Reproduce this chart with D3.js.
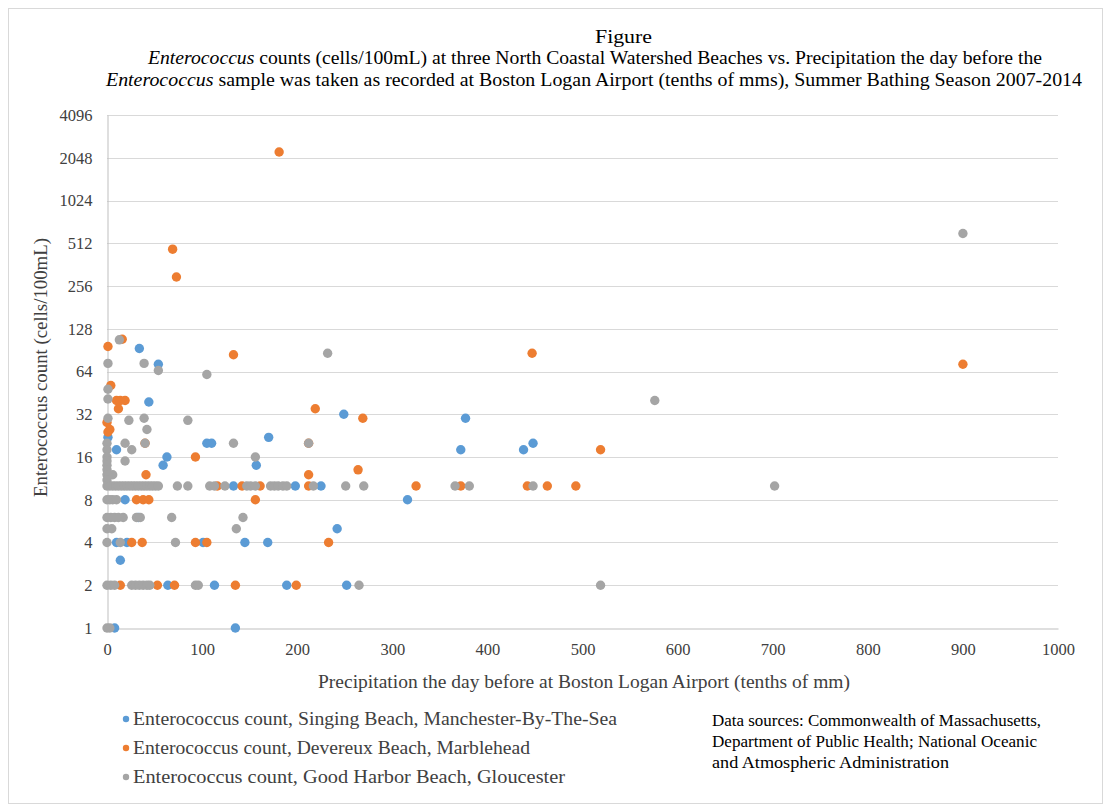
<!DOCTYPE html>
<html>
<head>
<meta charset="utf-8">
<script src="https://cdn.jsdelivr.net/npm/d3@7"></script>
<style>
  html, body { margin: 0; padding: 0; background: #fff; }
  svg { display: block; font-family: "Liberation Serif", "Times New Roman", serif; }
  svg text { font-family: "Liberation Serif", "Times New Roman", serif; }
</style>
</head>
<body>
<svg id="chart" width="1110" height="809"></svg>
<script>
// ---------- DATA ----------
const seriesNames = [
  "Enterococcus count, Singing Beach, Manchester-By-The-Sea",
  "Enterococcus count, Devereux Beach, Marblehead",
  "Enterococcus count, Good Harbor Beach, Gloucester"
];
const seriesColors = ["#5B9BD5", "#ED7D31", "#A5A5A5"];

// [precipitation (tenths of mm), Enterococcus count]
const singingBeach = [
  [1,22],[10,18],[34,93],[54,72],[44,39],[63,16],[59,14],[105,20],[110,20],
  [170,22],[157,14],[19,8],[10,4],[21,4],[101,4],[145,4],[169,4],[14,3],
  [64,2],[113,2],[189,2],[252,2],[8,1],[135,1],[133,10],[198,10],[225,10],
  [316,8],[242,5],[249,32],[377,30],[372,18],[438,18],[448,20],[33,6]
];
const devereuxBeach = [
  [1,96],[16,108],[4,51],[10,40],[14,40],[19,40],[12,35],[0,28],[3,25],[1,24],
  [40,20],[133,84],[181,2250],[69,465],[73,296],[93,16],[41,12],
  [116,10],[142,10],[161,10],[31,8],[38,8],[44,8],[156,8],[26,4],[37,4],
  [93,4],[105,4],[14,2],[53,2],[71,2],[135,2],[199,2],[212,20],[219,35],
  [269,30],[212,12],[264,13],[212,10],[233,4],[325,10],[372,10],[442,10],
  [463,10],[493,10],[447,86],[519,18],[900,72]
];
const goodHarborBeach = [
  [1,73],[1,48],[1,41],[1,30],[0,20],[0,18],[0,16],[0,15],[0,14],[0,13],
  [0,12],[0,11],[0,8],[0,6],[0,5],[0,4],[0,2],[0,1],[3,1],
  [13,107],[39,73],[54,65],[105,61],[232,86],[23,29],[39,30],[85,29],[42,25],
  [19,20],[26,18],[40,20],[133,20],[19,15],[6,12],[156,16],[212,20],
  [0,10],[3,10],[6,10],[9,10],[12,10],[15,10],[18,10],[21,10],[24,10],[27,10],
  [30,10],[33,10],[36,10],[39,10],[42,10],[45,10],[48,10],[51,10],[54,10],
  [74,10],[85,10],[108,10],[113,10],[124,10],[147,10],[151,10],[156,10],
  [172,10],[176,10],[180,10],[185,10],[189,10],[217,10],[251,10],[270,10],
  [366,10],[381,10],[448,10],[702,10],
  [3,8],[6,8],[10,8],
  [4,6],[8,6],[12,6],[17,6],[31,6],[35,6],[68,6],[143,6],
  [5,5],[136,5],
  [14,4],[72,4],
  [4,2],[8,2],[26,2],[30,2],[34,2],[38,2],[42,2],[45,2],[93,2],[96,2],[265,2],[519,2],
  [576,40],[900,600]
];
const allSeries = [singingBeach, devereuxBeach, goodHarborBeach];

const xTicks = [0,100,200,300,400,500,600,700,800,900,1000];
const yTicks = [1,2,4,8,16,32,64,128,256,512,1024,2048,4096];

const titleTop = "Figure";
const titleLine1 = [["Enterococcus", true], [" counts (cells/100mL)  at three North Coastal Watershed Beaches vs. Precipitation  the day before the", false]];
const titleLine2 = [["Enterococcus", true], [" sample was taken as recorded at Boston Logan Airport (tenths of mms), Summer Bathing Season 2007-2014", false]];
const xTitle = "Precipitation the day before at Boston Logan Airport (tenths of mm)";
const yTitle = "Enterococcus count (cells/100mL)";
const sourceLines = [
  "Data sources: Commonwealth of Massachusetts,",
  "Department of Public Health; National Oceanic",
  "and Atmospheric Administration"
];

// ---------- DRAW ----------
const svg = d3.select("#chart");
const L = 107, R = 1058, T = 115, B = 628;
const SERIF = "Liberation Serif, Times New Roman, serif";

svg.append("rect").attr("x", 8.5).attr("y", 8.5).attr("width", 1094).attr("height", 795)
  .attr("fill", "#fff").attr("stroke", "#d9d9d9").attr("stroke-width", 1);

const x = d3.scaleLinear().domain([0, 1000]).range([L, R]);
const y = d3.scaleLog().base(2).domain([1, 4096]).range([B, T]);

// gridlines
svg.append("g").selectAll("line").data(yTicks.slice(1)).join("line")
  .attr("x1", L).attr("x2", R)
  .attr("y1", d => Math.round(y(d)) + 0.5).attr("y2", d => Math.round(y(d)) + 0.5)
  .attr("stroke", "#d9d9d9").attr("stroke-width", 1);

// axes
const xAxis = d3.axisBottom(x).tickValues(xTicks).tickSize(0).tickPadding(15).tickFormat(d3.format("d"));
const gx = svg.append("g").attr("transform", `translate(0,${B + 0.5})`).call(xAxis)
  .attr("font-family", SERIF);
gx.select(".domain").attr("stroke", "#bfbfbf");
gx.selectAll("text").attr("font-size", 16.5).attr("fill", "#404040");

const yAxis = d3.axisLeft(y).tickValues(yTicks).tickSize(0).tickPadding(15).tickFormat(d3.format("d"));
const gy = svg.append("g").attr("transform", `translate(${L + 0.5},0)`).call(yAxis)
  .attr("font-family", SERIF);
gy.select(".domain").attr("stroke", "#bfbfbf");
gy.selectAll("text").attr("font-size", 16.5).attr("fill", "#404040");

// points
allSeries.forEach((s, i) => {
  svg.append("g").selectAll("circle").data(s).join("circle")
    .attr("cx", d => x(d[0])).attr("cy", d => y(d[1]))
    .attr("r", 4.7).attr("fill", seriesColors[i]);
});

function fit(sel, w) {
  sel.attr("textLength", w).attr("lengthAdjust", "spacingAndGlyphs");
}

// titles
fit(svg.append("text").attr("x", 623.5).attr("y", 43).attr("text-anchor", "middle")
  .attr("font-size", 19).attr("fill", "#000").text(titleTop), 57);
function richLine(parts, cx, yy, w) {
  const t = svg.append("text").attr("x", cx).attr("y", yy).attr("text-anchor", "middle")
    .attr("font-size", 19).attr("fill", "#000");
  parts.forEach(p => t.append("tspan").attr("font-style", p[1] ? "italic" : "normal").text(p[0]));
  fit(t, w);
}
richLine(titleLine1, 595, 64, 894);
richLine(titleLine2, 594, 86, 976);

fit(svg.append("text").attr("x", 584).attr("y", 688).attr("text-anchor", "middle")
  .attr("font-size", 19).attr("fill", "#404040").text(xTitle), 532);
fit(svg.append("text").attr("transform", "translate(47,367.5) rotate(-90)").attr("text-anchor", "middle")
  .attr("font-size", 19).attr("fill", "#404040").text(yTitle), 259);

// legend
const legendW = [484, 397, 432];
const lg = svg.append("g");
seriesNames.forEach((n, i) => {
  const yy = 719 + i * 29;
  lg.append("circle").attr("cx", 126).attr("cy", yy).attr("r", 3.2).attr("fill", seriesColors[i]);
  fit(lg.append("text").attr("x", 133).attr("y", yy + 6).attr("font-size", 19.5)
    .attr("fill", "#404040").text(n), legendW[i]);
});

// source note
const sourceW = [329, 325, 237];
sourceLines.forEach((s, i) => {
  fit(svg.append("text").attr("x", 712).attr("y", 726 + i * 21).attr("font-size", 17)
    .attr("fill", "#000").text(s), sourceW[i]);
});
</script>
</body>
</html>
